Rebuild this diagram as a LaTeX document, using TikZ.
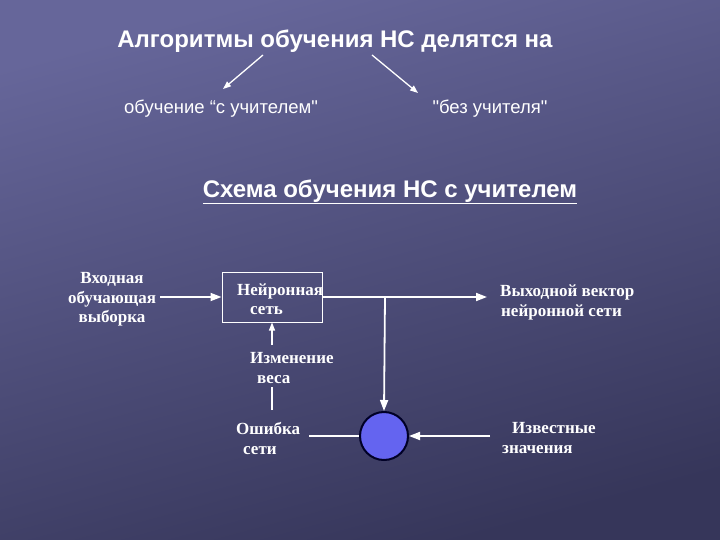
\documentclass[tikz,border=0pt]{standalone}
\usepackage{fontspec}
\setmainfont{Liberation Serif}
\setsansfont{Liberation Sans}
\newfontfamily\sansplain{Liberation Sans}
\usetikzlibrary{arrows.meta}
\definecolor{bgtop}{HTML}{66669A}
\definecolor{bgbot}{HTML}{36365A}
\definecolor{ball}{HTML}{6464F0}
\tikzset{
  ttl/.style={text=white,font=\sffamily\bfseries\fontsize{24}{28}\selectfont,inner sep=0pt},
  sub/.style={text=white,font=\sansplain\fontsize{18.5}{22}\selectfont,inner sep=0pt},
  lbl/.style={text=white,font=\bfseries\fontsize{17}{20}\selectfont,inner sep=0pt,anchor=base west},
  lblc/.style={text=white,font=\bfseries\fontsize{17}{20}\selectfont,inner sep=0pt,anchor=base},
  wire/.style={white,line width=1.8pt},
  arr/.style={wire,-{Triangle[width=8pt,length=11pt]}},
  thinarr/.style={white,line width=1.3pt,-{Triangle[width=6pt,length=8pt]}},
}
\begin{document}
\begin{tikzpicture}[x=1pt,y=-1pt]
\shade[top color=bgtop,bottom color=bgbot,shading angle=15] (0,0) rectangle (720,540);
\useasboundingbox (0,0) rectangle (720,540);
% header
\node[ttl] (t1) at (335,41) {Алгоритмы обучения НС делятся на};
\node[sub] (s1) at (221,109) {обучение “с учителем"};
\node[sub] (s2) at (490,109) {"без учителя"};
\coordinate (a1s) at (263,55);
\coordinate (a1e) at (223,89);
\coordinate (a2s) at (372,55);
\coordinate (a2e) at (418,93);
\draw[thinarr] (a1s) -- (a1e);
\draw[thinarr] (a2s) -- (a2e);
\node[ttl] (t2) at (390,192) {\underline{Схема обучения НС с учителем}};
% scheme
\node[lblc] (in1) at (112,283) {Входная};
\node[lblc] (in2) at (112,303) {обучающая};
\node[lblc] (in3) at (112,322) {выборка};
\node[draw=white,line width=1pt,minimum width=100pt,minimum height=50pt,inner sep=0pt] (nn) at (272,297) {};
\node[lbl] (nn1) at (237,295) {Нейронная};
\node[lbl] (nn2) at (250,314) {сеть};
\node[lbl] (out1) at (500,296) {Выходной вектор};
\node[lbl] (out2) at (501,316) {нейронной сети};
\node[lbl] (chg1) at (250,363) {Изменение};
\node[lbl] (chg2) at (257,383) {веса};
\node[lbl] (err1) at (236,434) {Ошибка};
\node[lbl] (err2) at (243,454) {сети};
\node[lbl] (kn1) at (512,433) {Известные};
\node[lbl] (kn2) at (502,453) {значения};
\node[circle,fill=ball,draw=black!85!blue,line width=2pt,minimum size=48pt,inner sep=0pt] (ball) at (384,436) {};
\coordinate (inE) at (160,297);
\coordinate (outW) at (487,297);
\coordinate (split) at (385,297);
\coordinate (chgT) at (272,345);
\coordinate (errT) at (272,410);
\coordinate (chgB) at (272,387);
\coordinate (errE) at (309,436);
\coordinate (knownW) at (490,436);
\draw[arr] (inE) -- (nn.west);
\draw[arr] (nn.east) -- (outW);
\draw[arr] (split) -- (ball.north);
\draw[thinarr] (chgT) -- (nn.south -| chgT);
\draw[white,line width=1.3pt] (errT) -- (chgB);
\draw[wire] (errE) -- (ball.west);
\draw[arr] (knownW) -- (ball.east);
\end{tikzpicture}
\end{document}
